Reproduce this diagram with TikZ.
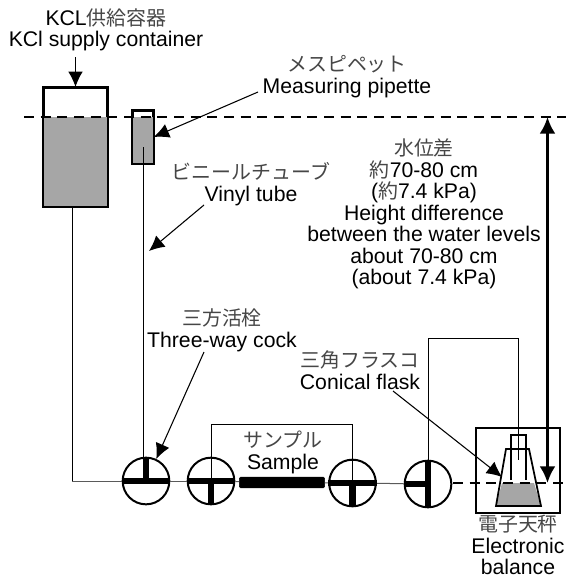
\documentclass[tikz,border=0pt]{standalone}
\usepackage{fontspec}
\setmainfont{Liberation Sans}
\newfontfamily\jpfont{Noto Sans CJK JP}[Scale=0.94]
\usetikzlibrary{arrows.meta,positioning}
\definecolor{watergray}{RGB}{166,166,166}
\definecolor{jpgray}{RGB}{70,70,70}
\definecolor{tubegray}{RGB}{90,90,90}
\newcommand{\jp}[1]{{\jpfont\color{jpgray}#1}}
\tikzset{
  caption/.style={font=\fontsize{15.9pt}{16.2pt}\selectfont, align=center, inner sep=0pt},
  vessel/.style={draw=black, line width=1.6pt, inner sep=0pt},
  valve/.style={circle, draw=black, line width=1.5pt, fill=white, minimum size=35pt, inner sep=0pt},
  valvebar/.style={line width=5.2pt, draw=black},
  tube/.style={draw=black, line width=0.7pt},
  thintube/.style={draw=tubegray, line width=0.75pt},
  pointer/.style={-{Latex[length=11.5pt,width=11pt]}, line width=0.8pt},
  waterline/.style={dash pattern=on 7.5pt off 5pt, line width=1.5pt},
  flaskline/.style={line width=1.3pt}
}
\begin{document}
\begin{tikzpicture}[x=0.75pt, y=-0.75pt]
  \useasboundingbox (0,0) rectangle (566,578);
  \coordinate (levelL) at (24,117);
  \coordinate (levelR) at (566,117);
  \coordinate (baseL) at (453,483);
  \coordinate (baseR) at (566,483);
  \coordinate (kclfoot) at (72,481);
  \coordinate (pipettetip) at (143,147);
  \coordinate (loopL) at (211,424);
  \coordinate (loopR) at (352.5,424);
  \coordinate (flaskcorner) at (518,338);
  \coordinate (flaskleft) at (428,338);
  \coordinate (flasktip) at (518,460);

  \node[vessel, minimum width=47pt, minimum height=88.5pt] (container) at (75.5,147) {};
  \fill[watergray] (container.north west |- levelL) rectangle (container.south east);
  \draw[line width=1.6pt] (container.north west) rectangle (container.south east);
  \node[vessel, minimum width=14.5pt, minimum height=39pt] (pipette) at (143,137) {};
  \fill[watergray] (pipette.north west |- levelL) rectangle (pipette.south east);
  \draw[line width=1.6pt] (pipette.north west) rectangle (pipette.south east);
  \draw[waterline] (levelL) -- (levelR);

  \node[draw=black, fill=black, rounded corners=1pt, minimum width=64pt, minimum height=8pt, inner sep=0pt] (sample) at (282,482.5) {};
  \node[valve] (cockA) at (146,481) {};
  \node[valve] (cockB) at (211,481) {};
  \node[valve] (cockC) at (352.5,483) {};
  \node[valve] (cockD) at (428,484) {};

  \draw[tube] (container.south -| kclfoot) -- (kclfoot);
  \draw[thintube] (kclfoot) -- (cockA.west);
  \draw[thintube] (cockA) -- (cockB);
  \draw[thintube] (cockB) -- (sample);
  \draw[thintube] (sample) -- (cockC);
  \draw[thintube] (cockC) -- (cockD);
  \draw[tube] (pipettetip) -- (pipettetip |- cockA.north);
  \draw[tube] (cockB.center) -- (loopL) -- (loopR) -- (cockC.center);
  \draw[tube] (cockD.north) -- (flaskleft) -- (flaskcorner) -- (flasktip);

  \draw[valvebar] (cockA.west) -- (cockA.east);
  \draw[valvebar] (cockA.center) -- (cockA.north);
  \draw[valvebar] (cockB.west) -- (cockB.east);
  \draw[valvebar] (cockB.center) -- (cockB.south);
  \draw[valvebar] (cockC.west) -- (cockC.east);
  \draw[valvebar] (cockC.center) -- (cockC.south);
  \draw[valvebar] (cockD.north) -- (cockD.south);
  \draw[valvebar] (cockD.west) -- (cockD.center);

  \node[draw=black, line width=1.6pt, minimum width=63pt, minimum height=63.75pt, inner sep=0pt] (balance) at (518,470.5) {};
  \fill[watergray] (502,483) -- (534,483) -- (541,506) -- (496,506) -- cycle;
  \draw[waterline] (baseL) -- (baseR);
  \draw[flaskline] (496,506) -- (541,506) -- (529,449) -- (506,449) -- cycle;
  \draw[flaskline] (511,480) -- (511,435) -- (526,435) -- (526,480);

  \node[caption] (kcl) at (106,30) {KCL\jp{供給容器}\\KCl supply container};
  \node[caption] (pipettelabel) at (347,76.5) {\jp{メスピペット}\\Measuring pipette};
  \node[caption] (vinyl) at (251,184) {\jp{ビニールチューブ}\\Vinyl tube};
  \node[caption] (head) at (424,214) {\jp{水位差}\\\jp{約}70-80 cm\\(\jp{約}7.4 kPa)\\Height difference\\between the water levels\\about 70-80 cm\\(about 7.4 kPa)};
  \node[caption] (cock) at (222,330) {\jp{三方活栓}\\Three-way cock};
  \node[caption] (flask) at (360,370) {\jp{三角フラスコ}\\Conical flask};
  \node[caption] (samplelabel) at (283,452.5) {\jp{サンプル}\\Sample};
  \node[caption, below=0.6pt of balance] (balancelabel) {\jp{電子天秤}\\Electronic\\balance};

  \coordinate (kcltail) at (75.5,57);
  \coordinate (pipettetail) at (258,92);
  \coordinate (vinyltail) at (204,205);
  \coordinate (vinyltip) at (149,251);
  \coordinate (cocktail) at (204,352);
  \coordinate (flasktail) at (393,391);
  \coordinate (flaskhead) at (502,477);
  \coordinate (headtop) at (547.5,117);
  \coordinate (headfoot) at (547.5,483);

  \draw[pointer] (kcltail) -- (container.north);
  \draw[pointer] (pipettetail) -- (pipette.east);
  \draw[pointer] (vinyltail) -- (vinyltip);
  \draw[pointer] (cocktail) -- (cockA.65);
  \draw[pointer] (flasktail) -- (flaskhead);
  \draw[{Latex[length=12.5pt,width=12pt]}-{Latex[length=12.5pt,width=12pt]}, line width=2.2pt] (headtop) -- (headfoot);
\end{tikzpicture}
\end{document}
